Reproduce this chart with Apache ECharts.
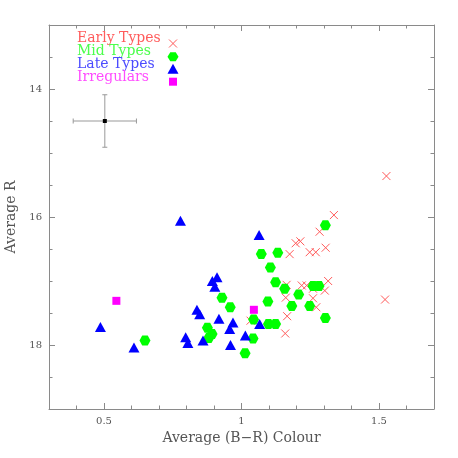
<!DOCTYPE html>
<html><head><meta charset="utf-8">
<script src="https://cdn.jsdelivr.net/npm/echarts@6/dist/echarts.min.js"></script>
<style>html,body{margin:0;padding:0;background:#fff}#c{width:458px;height:458px}</style>
</head><body><div id="c"></div>
<script>
// ---- data ----
const earlyX = [1.527,1.336,1.284,1.197,1.214,1.175,1.248,1.270,1.306,1.315,1.164,1.219,1.237,1.260,1.303,1.161,1.260,1.272,1.166,1.159,1.522,1.033];
const earlyY = [15.36,15.97,16.23,16.41,16.38,16.58,16.55,16.55,16.48,17.00,17.06,17.07,17.07,17.12,17.15,17.26,17.27,17.41,17.55,17.82,17.29,17.62];
const midX = [1.305,1.072,1.132,1.105,1.124,1.157,1.208,1.260,1.282,1.183,1.248,1.305,1.096,0.959,0.929,1.044,1.098,1.124,1.042,1.013,0.876,0.893,0.881,0.649];
const midY = [16.13,16.58,16.56,16.79,17.02,17.12,17.21,17.08,17.08,17.39,17.39,17.58,17.32,17.41,17.26,17.60,17.67,17.67,17.90,18.13,17.73,17.83,17.89,17.93];
const lateX = [0.778,1.064,0.911,0.894,0.903,0.838,0.848,0.918,0.969,0.957,1.066,1.014,0.797,0.805,0.860,0.960,0.487,0.609];
const lateY = [16.06,16.28,16.94,17.00,17.09,17.45,17.52,17.59,17.65,17.75,17.67,17.85,17.88,17.97,17.93,18.00,17.72,18.04];
const irrX = [0.545,1.045];
const irrY = [17.31,17.45];
const errX = [0.503], errY = [14.50], errDX = [0.115], errDY = [0.41];
const xTicks = [0.5, 1, 1.5];
const yTicks = [14, 16, 18];
const legendNames = ['Early Types','Mid Types','Late Types','Irregulars'];
const xName = 'Average (B\u2212R) Colour';
const yName = 'Average R';

// ---- styles ----
const FONT = 'DejaVu Serif';
const C_EARLY = '#ff5a5a', C_MID = '#00ff00', C_LATE = '#0000ff', C_IRR = '#ff00ff';
const T_EARLY = '#ff5c5c', T_MID = '#4cff4c', T_LATE = '#4c4cff', T_IRR = '#ff4cff';
const AX = '#8a8a8a';
const zip = (a, b) => a.map((v, i) => [v, b[i]]);
const HEX = 'path://M0,5L2.5,0.67L7.5,0.67L10,5L7.5,9.33L2.5,9.33Z';
const CROSS = 'path://M0,0L10,10M10,0L0,10';

function majorAxis(pos, withLabel, vals, extra) {
  return Object.assign({
    type: 'value', position: pos,
    axisLine: { show: true, onZero: false, lineStyle: { color: AX, width: 1 } },
    axisTick: { show: true, inside: true, length: 6, customValues: vals, lineStyle: { color: AX } },
    axisLabel: withLabel ? { show: true, customValues: vals, color: '#555', fontFamily: FONT, fontSize: 10, margin: 7 } : { show: false },
    splitLine: { show: false }
  }, extra);
}
function minorAxis(pos, interval, extra) {
  return Object.assign({
    type: 'value', position: pos, interval: interval,
    axisLine: { show: false, onZero: false },
    axisTick: { show: true, inside: true, length: 3.5, lineStyle: { color: AX } },
    axisLabel: { show: false },
    splitLine: { show: false }
  }, extra);
}
const xr = { min: 0.3, max: 1.7 };
const yr = { min: 13, max: 19, inverse: true };

const chart = echarts.init(document.getElementById('c'), null, { renderer: 'canvas' });
const legY = [40, 53, 66, 79];
const legColors = [T_EARLY, T_MID, T_LATE, T_IRR];
const graphics = legendNames.map((n, i) => ({
  type: 'text', left: 77, top: legY[i] - 8.5,
  style: { text: n, fill: legColors[i], font: '14px "' + FONT + '"' }
}));
// legend icons
const ix = 173;
graphics.push({ type: 'polyline', shape: { points: [[ix-4,39.5],[ix+4,47.5]] }, style: { stroke: C_EARLY, lineWidth: 1 } });
graphics.push({ type: 'polyline', shape: { points: [[ix+4,39.5],[ix-4,47.5]] }, style: { stroke: C_EARLY, lineWidth: 1 } });
graphics.push({ type: 'polygon', shape: { points: [[ix-5.5,56.7],[ix-2.75,52.2],[ix+2.75,52.2],[ix+5.5,56.7],[ix+2.75,61.2],[ix-2.75,61.2]] }, style: { fill: C_MID } });
graphics.push({ type: 'polygon', shape: { points: [[ix,63.7],[ix+5.5,73.7],[ix-5.5,73.7]] }, style: { fill: C_LATE } });
graphics.push({ type: 'rect', shape: { x: ix-4, y: 77.7, width: 8, height: 8 }, style: { fill: C_IRR } });

chart.setOption({
  animation: false,
  backgroundColor: '#fff',
  grid: { left: 49, top: 25, width: 385, height: 384, containLabel: false, outerBoundsMode: 'none' },
  xAxis: [
    majorAxis('bottom', true, xTicks, Object.assign({ name: xName, nameLocation: 'middle', nameGap: 19,
      nameTextStyle: { color: '#555', fontFamily: FONT, fontSize: 14 } }, xr)),
    minorAxis('bottom', 0.1, xr),
    majorAxis('top', false, xTicks, xr),
    minorAxis('top', 0.1, xr)
  ],
  yAxis: [
    majorAxis('left', true, yTicks, Object.assign({ name: yName, nameLocation: 'middle', nameGap: 24,
      nameTextStyle: { color: '#555', fontFamily: FONT, fontSize: 14 } }, yr)),
    minorAxis('left', 0.5, yr),
    majorAxis('right', false, yTicks, yr),
    minorAxis('right', 0.5, yr)
  ],
  graphic: graphics,
  series: [
    { type: 'scatter', name: legendNames[0], data: zip(earlyX, earlyY), symbol: CROSS, symbolSize: 8,
      itemStyle: { color: 'rgba(0,0,0,0)', borderColor: C_EARLY, borderWidth: 1, opacity: 1 } },
    { type: 'scatter', name: legendNames[1], data: zip(midX, midY), symbol: HEX, symbolSize: [11, 10],
      itemStyle: { color: C_MID, opacity: 1 } },
    { type: 'scatter', name: legendNames[2], data: zip(lateX, lateY), symbol: 'triangle', symbolSize: [11, 10],
      itemStyle: { color: C_LATE, opacity: 1 } },
    { type: 'scatter', name: legendNames[3], data: zip(irrX, irrY), symbol: 'rect', symbolSize: 8,
      itemStyle: { color: C_IRR, opacity: 1 } },
    { type: 'custom', name: 'err', data: errX.map((x, i) => [x, errY[i], errDX[i], errDY[i]]),
      renderItem: function (params, api) {
        const x = api.value(0), y = api.value(1), dx = api.value(2), dy = api.value(3);
        const c = api.coord([x, y]);
        const l = api.coord([x - dx, y]), r = api.coord([x + dx, y]);
        const t = api.coord([x, y - dy]), b = api.coord([x, y + dy]);
        const st = { stroke: '#999', lineWidth: 1 };
        return { type: 'group', children: [
          { type: 'line', shape: { x1: l[0], y1: c[1], x2: r[0], y2: c[1] }, style: st },
          { type: 'line', shape: { x1: c[0], y1: t[1], x2: c[0], y2: b[1] }, style: st },
          { type: 'line', shape: { x1: l[0], y1: c[1]-2.5, x2: l[0], y2: c[1]+2.5 }, style: st },
          { type: 'line', shape: { x1: r[0], y1: c[1]-2.5, x2: r[0], y2: c[1]+2.5 }, style: st },
          { type: 'line', shape: { x1: c[0]-2.5, y1: t[1], x2: c[0]+2.5, y2: t[1] }, style: st },
          { type: 'line', shape: { x1: c[0]-2.5, y1: b[1], x2: c[0]+2.5, y2: b[1] }, style: st },
          { type: 'rect', shape: { x: c[0]-2, y: c[1]-2, width: 4, height: 4 }, style: { fill: '#000' } }
        ]};
      }
    }
  ]
});
</script></body></html>
